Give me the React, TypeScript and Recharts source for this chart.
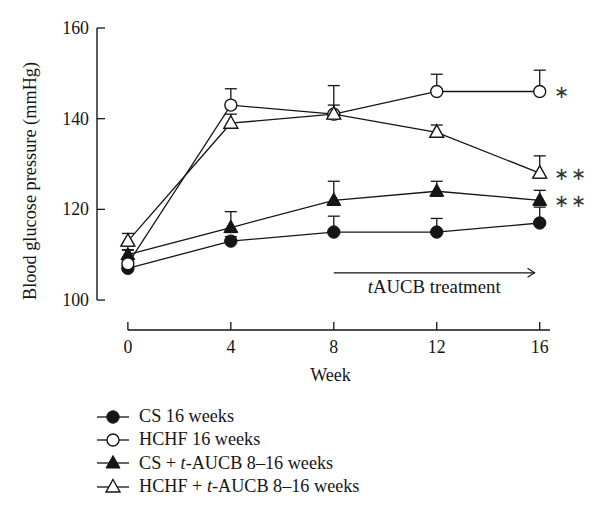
import React from 'react';
import { LineChart, Line, XAxis, YAxis, ErrorBar, ReferenceLine, Legend } from 'recharts';

// ---------- data ----------
const weeks = [0, 4, 8, 12, 16];
const xTicks = [0, 4, 8, 12, 16];
const yTicks = [100, 120, 140, 160];

const csValues = [107, 113, 115, 115, 117];
const csErrors = [0.8, 1, 3.5, 3, 3.5];

const hchfValues = [108, 143, 141, 146, 146];
const hchfErrors = [3.1, 3.6, 6.3, 3.8, 4.7];

const csTValues = [110, 116, 122, 124, 122];
const csTErrors = [1, 3.5, 4.2, 2.2, 2.2];

const hchfTValues = [113, 139, 141, 137, 128];
const hchfTErrors = [1.7, 2, 2, 1.6, 3.8];

const seriesNames = ['CS 16 weeks', 'HCHF 16 weeks', 'CS + t-AUCB 8–16 weeks', 'HCHF + t-AUCB 8–16 weeks'];
const significance = ['', '∗', '∗∗', '∗∗'];

const yLabel = 'Blood glucose pressure (mmHg)';
const xLabel = 'Week';
const treatmentText = 'tAUCB treatment';
const treatmentStart = 8;
const treatmentEnd = 15.8;
const treatmentLevel = 106;

const xDomain = [-1.2, 16.4];
const yDomain = [93.4, 160];

// ---------- style ----------
const FONT = '"Liberation Serif", "Times New Roman", serif';
const INK = '#151515';
const TRI_LOW = 1.1; // hides the lower error cap inside the triangle base

const data = weeks.map((w, i) => ({
  week: w,
  cs: csValues[i],
  csErr: [0, csErrors[i]],
  hchf: hchfValues[i],
  hchfErr: [0, hchfErrors[i]],
  csT: csTValues[i],
  csTErr: [TRI_LOW, csTErrors[i]],
  hchfT: hchfTValues[i],
  hchfTErr: [TRI_LOW, hchfTErrors[i]],
}));

type Kind = 'circle-filled' | 'circle-open' | 'tri-filled' | 'tri-open';

function Marker({ cx, cy, kind }: { cx: number; cy: number; kind: Kind }) {
  if (kind === 'circle-filled') return <circle cx={cx} cy={cy} r={6.2} fill={INK} stroke={INK} strokeWidth={1} />;
  if (kind === 'circle-open') return <circle cx={cx} cy={cy} r={6} fill="#fff" stroke={INK} strokeWidth={1.4} />;
  const pts = `${cx},${cy - 7.5} ${cx + 7},${cy + 5} ${cx - 7},${cy + 5}`;
  if (kind === 'tri-filled') return <polygon points={pts} fill={INK} stroke={INK} strokeWidth={1} />;
  return <polygon points={pts} fill="#fff" stroke={INK} strokeWidth={1.4} />;
}

const renderDot = (kind: Kind) => (props: any) => {
  const { cx, cy, index } = props;
  if (cx == null || cy == null) return <g key={`d-${kind}-${index}`} />;
  return (
    <g key={`d-${kind}-${index}`}>
      <Marker cx={cx} cy={cy} kind={kind} />
    </g>
  );
};

const renderMark = (seriesIndex: number) => (props: any) => {
  const { x, y, index } = props;
  if (index !== weeks.length - 1 || !significance[seriesIndex]) return null;
  return (
    <text x={x + 14} y={y + 1} dominantBaseline="central" fontFamily={FONT} fontSize={18} fill="#333" letterSpacing={2}>
      {significance[seriesIndex]}
    </text>
  );
};

function withItalicT(s: string) {
  const i = s.indexOf('t-AUCB') >= 0 ? s.indexOf('t-AUCB') : s.indexOf('tAUCB');
  if (i < 0) return <>{s}</>;
  return (
    <>
      {s.slice(0, i)}
      <tspan fontStyle="italic">t</tspan>
      {s.slice(i + 1)}
    </>
  );
}

function withItalicTHtml(s: string) {
  const i = s.indexOf('t-AUCB');
  if (i < 0) return <>{s}</>;
  return (
    <>
      {s.slice(0, i)}
      <i>t</i>
      {s.slice(i + 1)}
    </>
  );
}

const kinds: Kind[] = ['circle-filled', 'circle-open', 'tri-filled', 'tri-open'];

function LegendBox() {
  return (
    <div style={{ fontFamily: FONT, fontSize: 18.2, color: INK }}>
      {seriesNames.map((name, i) => (
        <div key={name} style={{ display: 'flex', alignItems: 'center', height: 23.3 }}>
          <svg width={42} height={20} style={{ display: 'block' }}>
            <line x1={0} y1={10} x2={32} y2={10} stroke={INK} strokeWidth={1.3} />
            <Marker cx={16} cy={10} kind={kinds[i]} />
          </svg>
          <span style={{ whiteSpace: 'nowrap', lineHeight: '23px' }}>{withItalicTHtml(name)}</span>
        </div>
      ))}
    </div>
  );
}

const XTick = (props: any) => {
  const { x, y, payload } = props;
  return (
    <g>
      <line x1={x} y1={y} x2={x} y2={y - 8} stroke={INK} strokeWidth={1.3} />
      <text x={x} y={y + 23} textAnchor="middle" fontFamily={FONT} fontSize={17.8} fill={INK}>
        {payload.value}
      </text>
    </g>
  );
};

const YTick = (props: any) => {
  const { x, y, payload } = props;
  if (payload.value < 100) return <g />;
  return (
    <g>
      <line x1={x + 8} y1={y} x2={x + 16} y2={y} stroke={INK} strokeWidth={1.3} />
      <text x={x} y={y + 6} textAnchor="end" fontFamily={FONT} fontSize={17.8} fill={INK}>
        {payload.value}
      </text>
    </g>
  );
};

const ArrowShape = (props: any) => {
  const { x1, y1, x2, y2 } = props;
  const cx = (x1 + x2) / 2;
  return (
    <g>
      <line x1={x1} y1={y1} x2={x2} y2={y2} stroke={INK} strokeWidth={1.2} />
      <polyline points={`${x2 - 7},${y2 - 4.5} ${x2},${y2} ${x2 - 7},${y2 + 4.5}`} fill="none" stroke={INK} strokeWidth={1.2} />
      <text x={cx} y={y1 + 20} textAnchor="middle" fontFamily={FONT} fontSize={18.8} fill={INK}>
        {withItalicT(treatmentText)}
      </text>
    </g>
  );
};

const AxisLineShape = (props: any) => {
  const { x1, y1, x2, y2 } = props;
  return <line x1={x1} y1={y1} x2={x2} y2={y2} stroke={INK} strokeWidth={1.4} />;
};

export default function App() {
  return (
    <div style={{ position: 'absolute', left: 0, top: 0, background: '#fff' }}>
      <LineChart width={600} height={518} data={data} margin={{ top: 28, right: 50, left: 27, bottom: 128 }}>
        <XAxis
          dataKey="week"
          type="number"
          domain={xDomain}
          ticks={xTicks}
          axisLine={false}
          tickLine={false}
          tickSize={0}
          tickMargin={0}
          height={60}
          tick={<XTick />}
          interval={0}
          label={(p: any) => {
            const vb = p.viewBox;
            return (
              <text x={vb.x + vb.width / 2 + 7} y={vb.y + 51} textAnchor="middle" fontFamily={FONT} fontSize={18} fill={INK}>
                {xLabel}
              </text>
            );
          }}
        />
        <YAxis
          type="number"
          domain={yDomain}
          ticks={yTicks}
          allowDataOverflow
          axisLine={false}
          tickLine={false}
          tickSize={0}
          tickMargin={8}
          width={70}
          tick={<YTick />}
          interval={0}
          label={(p: any) => {
            const vb = p.viewBox;
            const cx = vb.x + 9;
            const cy = vb.y + vb.height / 2 + 2;
            return (
              <text x={cx} y={cy} transform={`rotate(-90, ${cx}, ${cy})`} textAnchor="middle" fontFamily={FONT} fontSize={18.3} fill={INK}>
                {yLabel}
              </text>
            );
          }}
        />
        <ReferenceLine
          segment={[{ x: 0, y: yDomain[0] }, { x: xDomain[1], y: yDomain[0] }]}
          ifOverflow="visible"
          shape={<AxisLineShape />}
        />
        <ReferenceLine
          segment={[{ x: xDomain[0], y: yTicks[0] }, { x: xDomain[0], y: yTicks[yTicks.length - 1] }]}
          ifOverflow="visible"
          shape={<AxisLineShape />}
        />
        <ReferenceLine
          segment={[{ x: treatmentStart, y: treatmentLevel }, { x: treatmentEnd, y: treatmentLevel }]}
          ifOverflow="visible"
          shape={<ArrowShape />}
        />
        <Line dataKey="cs" name={seriesNames[0]} stroke={INK} strokeWidth={1.3} isAnimationActive={false} dot={renderDot('circle-filled')} activeDot={false} label={renderMark(0)}>
          <ErrorBar dataKey="csErr" width={6} stroke={INK} strokeWidth={1.3} direction="y" />
        </Line>
        <Line dataKey="csT" name={seriesNames[2]} stroke={INK} strokeWidth={1.3} isAnimationActive={false} dot={renderDot('tri-filled')} activeDot={false} label={renderMark(2)}>
          <ErrorBar dataKey="csTErr" width={6} stroke={INK} strokeWidth={1.3} direction="y" />
        </Line>
        <Line dataKey="hchf" name={seriesNames[1]} stroke={INK} strokeWidth={1.3} isAnimationActive={false} dot={renderDot('circle-open')} activeDot={false} label={renderMark(1)}>
          <ErrorBar dataKey="hchfErr" width={6} stroke={INK} strokeWidth={1.3} direction="y" />
        </Line>
        <Line dataKey="hchfT" name={seriesNames[3]} stroke={INK} strokeWidth={1.3} isAnimationActive={false} dot={renderDot('tri-open')} activeDot={false} label={renderMark(3)}>
          <ErrorBar dataKey="hchfTErr" width={6} stroke={INK} strokeWidth={1.3} direction="y" />
        </Line>
        <Legend
          layout="vertical"
          align="center"
          verticalAlign="middle"
          wrapperStyle={{ top: 405, left: 97, width: 400, height: 94 }}
          content={() => <LegendBox />}
        />
      </LineChart>
    </div>
  );
}
